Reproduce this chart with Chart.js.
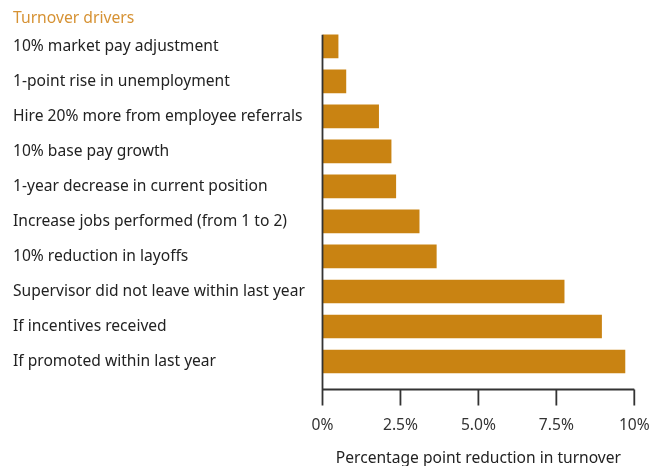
<!DOCTYPE html>
<html>
<head>
<meta charset="utf-8">
<script src="https://cdn.jsdelivr.net/npm/chart.js@4"></script>
<style>
  html, body { margin: 0; padding: 0; background: #fff; }
  #wrap { width: 665px; height: 466px; position: relative; }
</style>
</head>
<body>
<div id="wrap"><canvas id="chart"></canvas></div>
<script>
// Turnover drivers: percentage point reduction in turnover
const drivers = [
  '10% market pay adjustment',
  '1-point rise in unemployment',
  'Hire 20% more from employee referrals',
  '10% base pay growth',
  '1-year decrease in current position',
  'Increase jobs performed (from 1 to 2)',
  '10% reduction in layoffs',
  'Supervisor did not leave within last year',
  'If incentives received',
  'If promoted within last year'
];
const reduction = [0.5, 0.75, 1.8, 2.2, 2.35, 3.1, 3.65, 7.75, 8.95, 9.7];
const tickValues = [0, 2.5, 5, 7.5, 10];
const tickLabels = ['0%', '2.5%', '5.0%', '7.5%', '10%'];

const FONT = 'Noto Sans';
const BAR = '#C98312';
const INK = '#333333';

// Axis lines drawn a little below the bars, with downward tick marks
const axisLines = {
  id: 'axisLines',
  afterDraw(chart) {
    const { ctx, chartArea, scales: { x, y } } = chart;
    const bar = chart.getDatasetMeta(0).data[0];
    const x0 = x.getPixelForValue(0);
    const axisY = chartArea.bottom + 10.5;
    const tickEnd = axisY + 16;
    ctx.save();
    ctx.strokeStyle = INK;
    ctx.lineWidth = 1.8;
    ctx.beginPath();
    ctx.moveTo(x0, bar.y - bar.height / 2);
    ctx.lineTo(x0, tickEnd);
    ctx.moveTo(x0, axisY);
    ctx.lineTo(x.getPixelForValue(10), axisY);
    tickValues.forEach(v => {
      const px = x.getPixelForValue(v);
      ctx.moveTo(px, axisY);
      ctx.lineTo(px, tickEnd);
    });
    ctx.stroke();
    ctx.restore();
  }
};

new Chart(document.getElementById('chart'), {
  type: 'bar',
  data: {
    labels: drivers,
    datasets: [{
      data: reduction,
      backgroundColor: BAR,
      borderWidth: 0,
      barThickness: 23
    }]
  },
  options: {
    indexAxis: 'y',
    responsive: true,
    maintainAspectRatio: false,
    animation: false,
    layout: { padding: { left: 13, right: 30.7, top: 0, bottom: 0 } },
    plugins: {
      legend: { display: false },
      tooltip: { enabled: false },
      title: {
        display: true,
        text: 'Turnover drivers',
        align: 'start',
        color: '#D69234',
        font: { family: FONT, size: 15.7, weight: 'normal' },
        padding: { top: 9, bottom: 1 }
      }
    },
    scales: {
      y: {
        offset: true,
        grid: { display: false },
        border: { display: false },
        ticks: {
          crossAlign: 'far',
          color: '#222',
          font: { family: FONT, size: 15.6 }
        },
        afterFit(scale) { scale.width = 309.5; }
      },
      x: {
        min: 0,
        max: 10,
        grid: { display: false },
        border: { display: false },
        afterBuildTicks(scale) {
          scale.ticks = tickValues.map(v => ({ value: v }));
        },
        ticks: {
          padding: 29,
          color: INK,
          font: { family: FONT, size: 15.6 },
          maxRotation: 0,
          callback: (v, i) => tickLabels[i]
        },
        title: {
          display: true,
          text: 'Percentage point reduction in turnover',
          color: '#222',
          font: { family: FONT, size: 15.6 },
          padding: { top: 0, bottom: -1.5 }
        },
        afterFit(scale) {
          scale.height = 87;
          scale.paddingLeft = 0;
          scale.paddingRight = 0;
        }
      }
    }
  },
  plugins: [axisLines]
});
</script>
</body>
</html>
